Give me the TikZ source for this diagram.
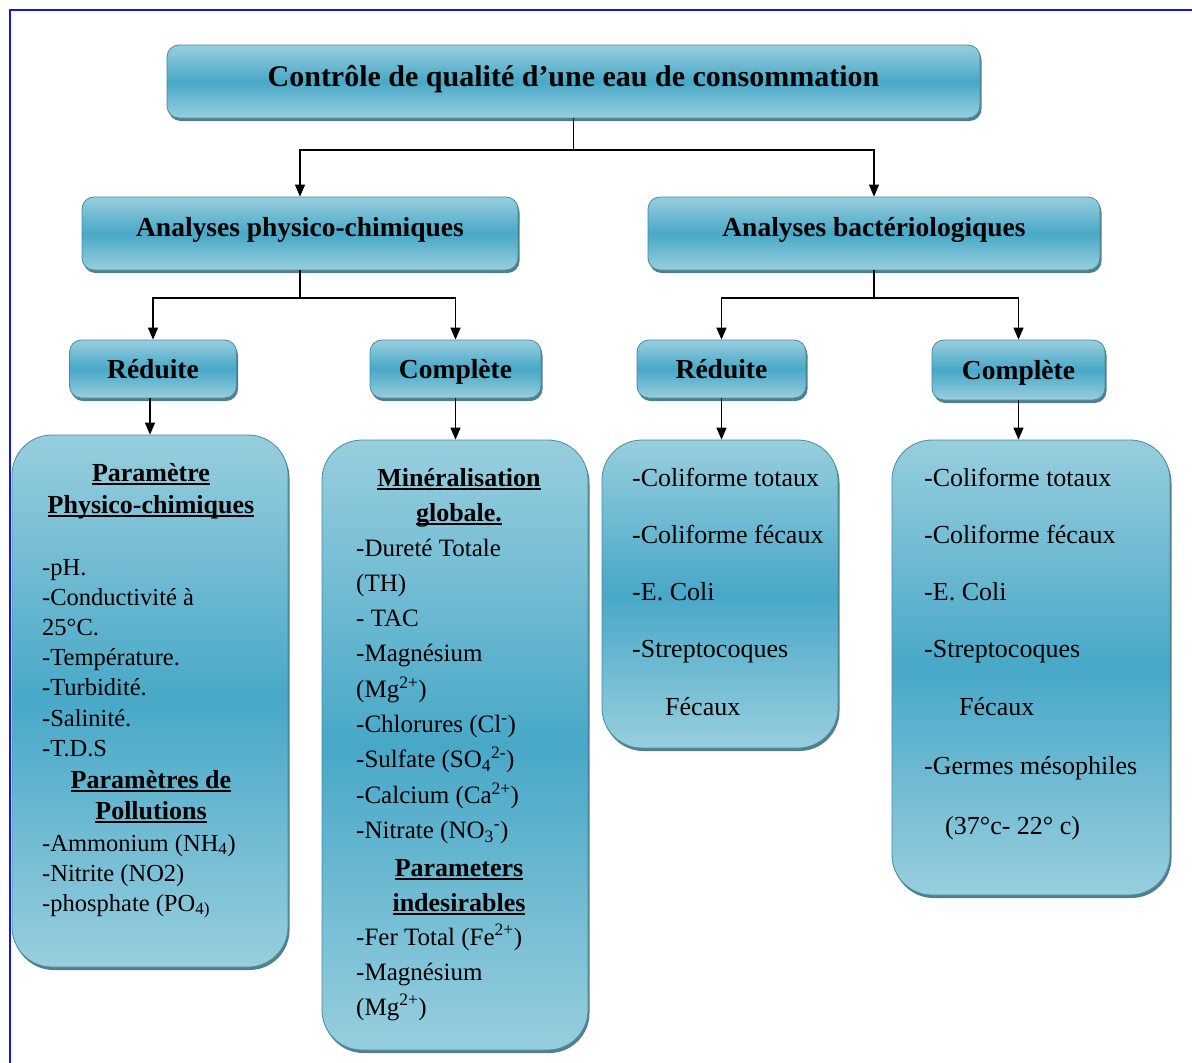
\documentclass[tikz,border=0pt]{standalone}
\usepackage{fontspec}
\setmainfont{Liberation Serif}
\usetikzlibrary{arrows.meta,shadows}
\definecolor{boxlight}{RGB}{152,206,222}
\definecolor{boxdark}{RGB}{72,168,199}
\definecolor{boxedge}{RGB}{70,140,160}
\definecolor{shadowc}{RGB}{40,95,110}
\definecolor{framec}{RGB}{20,20,240}
\newcommand\myul[1]{\setbox0\hbox{#1}\rlap{\rule[-4pt]{\wd0}{1.6pt}}\box0}
\tikzset{
 boxbase/.style={draw=boxedge, line width=0.8pt, top color=boxlight, bottom color=boxlight, middle color=boxdark,
   drop shadow={shadow xshift=1.5pt, shadow yshift=-3pt, fill=shadowc, opacity=0.8}, inner sep=0pt},
 headbox/.style={boxbase, rounded corners=12pt, font=\bfseries\fontsize{27.5}{30}\selectfont},
 titlebox/.style={headbox, font=\bfseries\fontsize{30}{32}\selectfont, text height=25pt, text depth=15pt},
 lvltwo/.style={headbox, text height=19pt, text depth=14pt},
 subbox/.style={headbox, text height=19pt, text depth=0pt},
 listbox/.style={boxbase, rounded corners=40pt},
 conn/.style={line width=1.3pt, black},
 arr/.style={conn, -{Triangle[length=12pt,width=10pt]}},
 txtA/.style={anchor=base west, inner sep=0pt, font=\fontsize{24.5}{30}\selectfont},
 txtB/.style={anchor=base west, inner sep=0pt, font=\fontsize{25}{30}\selectfont},
 txtC/.style={anchor=base west, inner sep=0pt, font=\fontsize{26}{30}\selectfont},
 hd/.style={anchor=base, inner sep=0pt, font=\bfseries\fontsize{26}{30}\selectfont},
}
\begin{document}
\begin{tikzpicture}[x=1pt,y=-1pt]
\useasboundingbox (0,0) rectangle (1192,1063);
\fill[white] (0,0) rectangle (1192,1063);
\draw[framec, line width=2pt] (10,1063) -- (10,10) -- (1192,10);

% header boxes
\node[titlebox, minimum width=813pt, minimum height=73pt] (title) at (573.5,81.5) {Contrôle de qualité d’une eau de consommation};
\node[lvltwo, minimum width=436pt, minimum height=73pt] (phys) at (300,233.5) {Analyses physico-chimiques};
\node[lvltwo, minimum width=452pt, minimum height=73pt] (bact) at (874,233.5) {Analyses bactériologiques};
\node[subbox, minimum width=167pt, minimum height=58pt] (redL) at (153,369) {Réduite};
\node[subbox, minimum width=171pt, minimum height=58pt] (compL) at (455.5,369) {Complète};
\node[subbox, minimum width=169pt, minimum height=58pt] (redR) at (721.5,369) {Réduite};
\node[subbox, minimum width=173pt, minimum height=60pt] (compR) at (1018.5,370) {Complète};

% list boxes
\node[listbox, minimum width=276pt, minimum height=532pt] (b1) at (150,701) {};
\node[listbox, minimum width=266pt, minimum height=610pt] (b2) at (455,745) {};
\node[listbox, minimum width=236pt, minimum height=308pt] (b3) at (720,594) {};
\node[listbox, minimum width=278pt, minimum height=455pt] (b4) at (1031,667.5) {};

% connectors
\draw[conn] (title.south) -- (573.5,150) coordinate (j1);
\draw[arr] (j1) -| (phys.north);
\draw[arr] (j1) -| (bact.north);
\draw[conn] (phys.south) -- (300,298) coordinate (j2);
\draw[arr] (j2) -| (redL.north);
\draw[arr] (j2) -| (compL.north);
\draw[conn] (bact.south) -- (874,298) coordinate (j3);
\draw[arr] (j3) -| (redR.north);
\draw[arr] (j3) -| (compR.north);
\draw[arr] (redL.south -| b1.north) -- (b1.north);
\draw[arr] (compL.south) -- (compL.south |- b2.north);
\draw[arr] (redR.south) -- (redR.south |- b3.north);
\draw[arr] (compR.south) -- (compR.south |- b4.north);

% box 1 text
\node[hd] (b1h1) at (151,481) {\myul{Paramètre}};
\node[hd] (b1h2) at (151,513) {\myul{Physico-chimiques}};
\foreach \t [count=\i] in {{-pH.},{-Conductivité à},{25°C.},{-Température.},{-Turbidité.},{-Salinité.},{-T.D.S}}
  {\node[txtA] (b1l\i) at (42,{575+30.2*(\i-1)}) {\t};}
\node[hd] (b1h3) at (151,788) {\myul{Paramètres de}};
\node[hd] (b1h4) at (151,819) {\myul{Pollutions}};
\foreach \t [count=\i] in {{-Ammonium (NH\textsubscript{4})},{-Nitrite (NO2)},{-phosphate (PO\textsubscript{4)}}}
  {\node[txtA] (b1m\i) at (42,{851+30*(\i-1)}) {\t};}

% box 2 text
\node[hd] (b2h1) at (459,486) {\myul{Minéralisation}};
\node[hd] (b2h2) at (459,521) {\myul{globale.}};
\foreach \t [count=\i] in {{-Dureté Totale},{(TH)},{- TAC},{-Magnésium},{(Mg\textsuperscript{2+})},{-Chlorures (Cl\textsuperscript{-})},{-Sulfate (SO\textsubscript{4}\textsuperscript{2-})},{-Calcium (Ca\textsuperscript{2+})},{-Nitrate (NO\textsubscript{3}\textsuperscript{-})}}
  {\node[txtB] (b2l\i) at (356,{556+35.3*(\i-1)}) {\t};}
\node[hd] (b2h3) at (459,876) {\myul{Parameters}};
\node[hd] (b2h4) at (459,911) {\myul{indesirables}};
\foreach \t [count=\i] in {{-Fer Total (Fe\textsuperscript{2+})},{-Magnésium},{(Mg\textsuperscript{2+})}}
  {\node[txtB] (b2m\i) at (356,{945+35*(\i-1)}) {\t};}

% box 3 text
\foreach \t [count=\i] in {{-Coliforme totaux},{-Coliforme fécaux},{-E. Coli},{-Streptocoques}}
  {\node[txtC] (b3l\i) at (632,{486+57.3*(\i-1)}) {\t};}
\node[txtC] (b3l5) at (665,715) {Fécaux};

% box 4 text
\foreach \t [count=\i] in {{-Coliforme totaux},{-Coliforme fécaux},{-E. Coli},{-Streptocoques}}
  {\node[txtC] (b4l\i) at (924,{486+57.3*(\i-1)}) {\t};}
\node[txtC] (b4l5) at (959,715) {Fécaux};
\node[txtC] (b4l6) at (924,774) {-Germes mésophiles};
\node[txtC] (b4l7) at (945,834) {(37°c- 22° c)};
\end{tikzpicture}
\end{document}
